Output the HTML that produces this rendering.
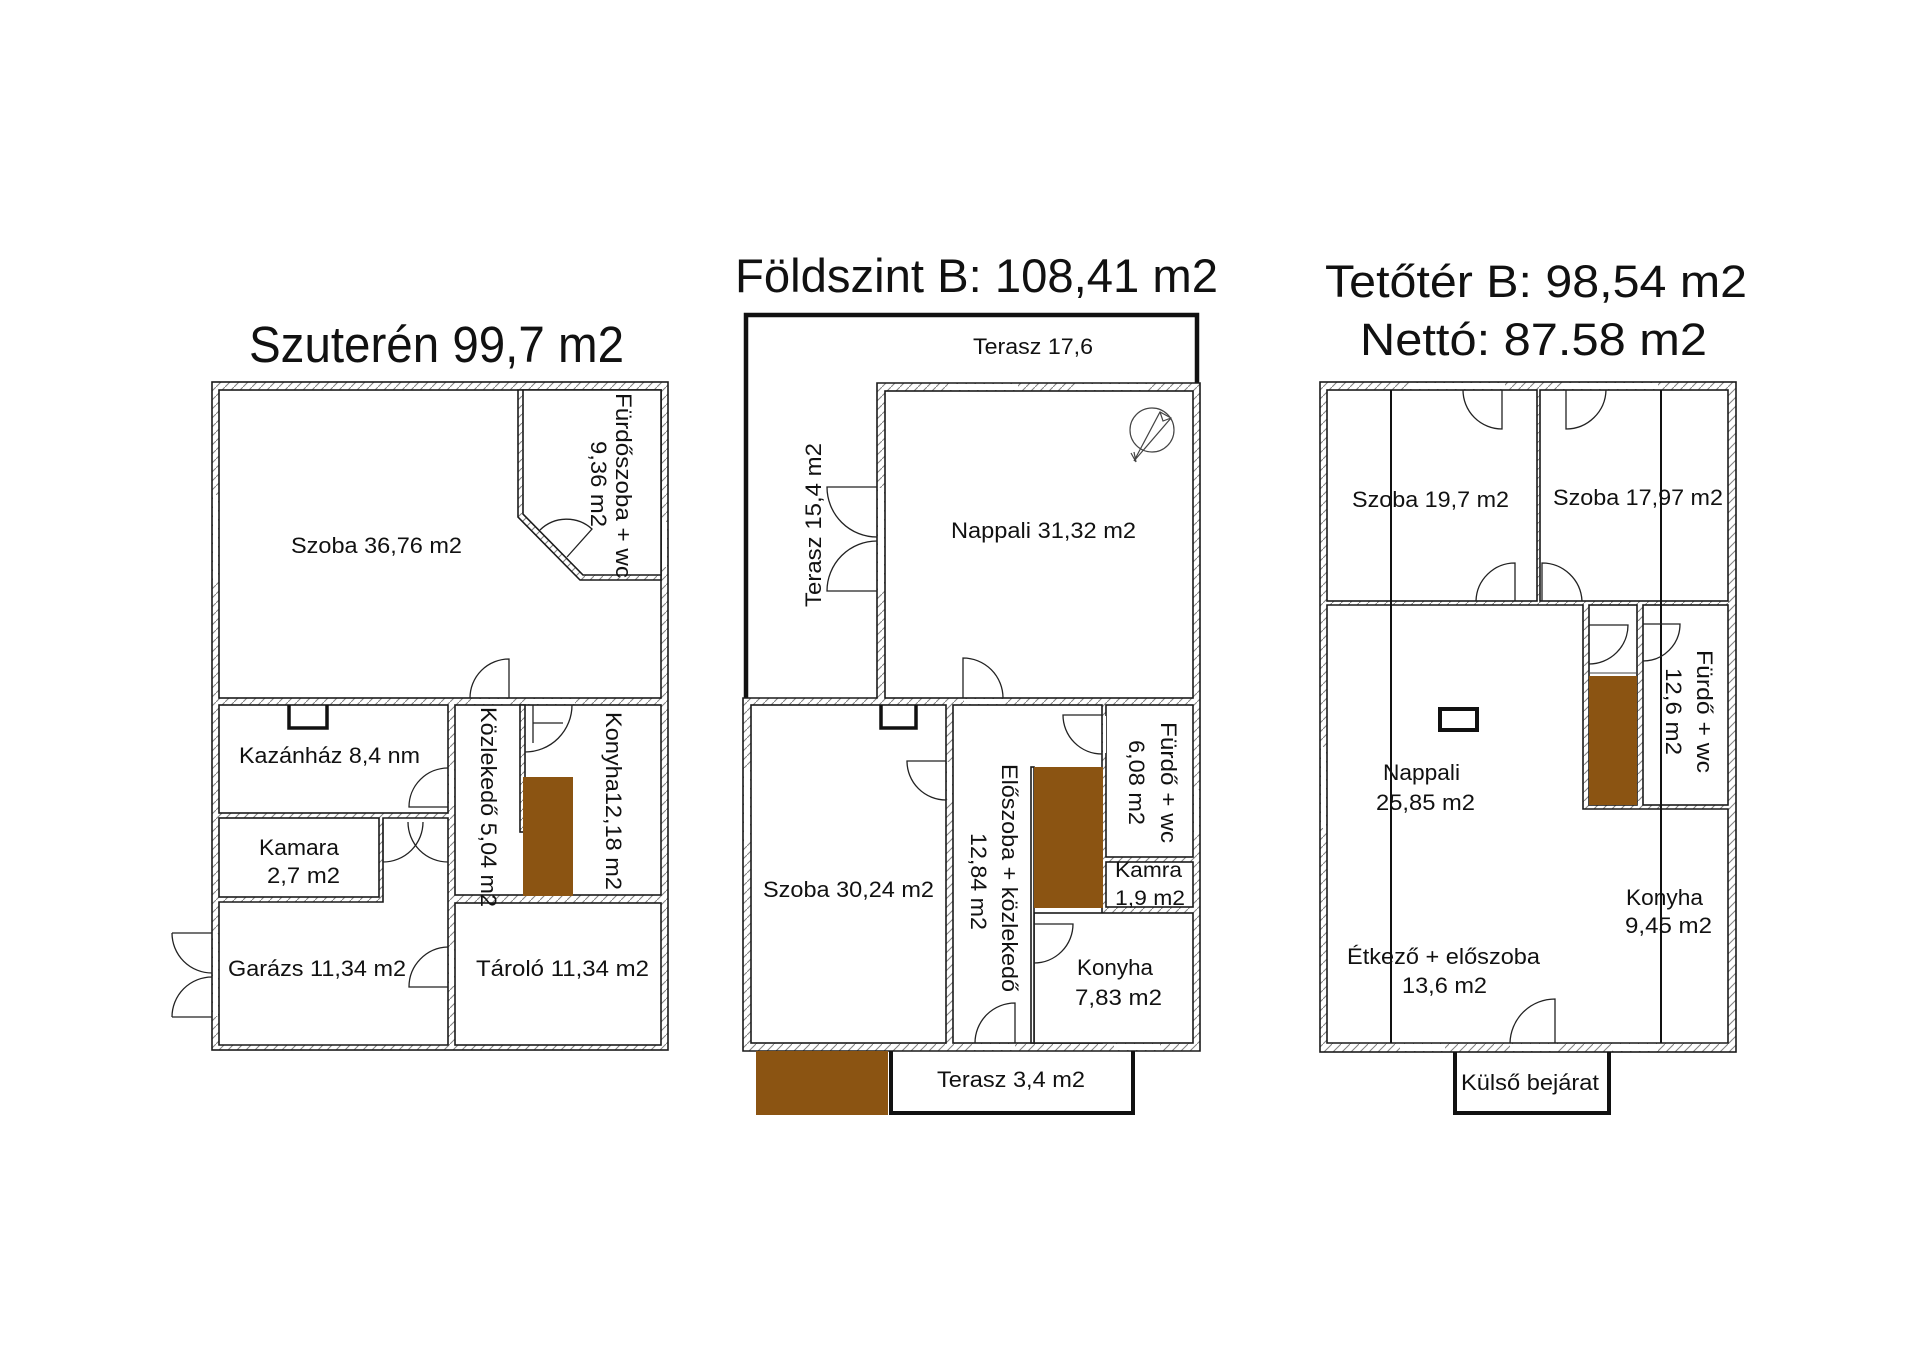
<!DOCTYPE html>
<html><head><meta charset="utf-8"><style>
html,body{margin:0;padding:0;background:#fff;}
svg{display:block;}
text{font-family:"Liberation Sans",Arial,sans-serif;fill:#111;}
</style></head><body>
<svg width="1920" height="1357" viewBox="0 0 1920 1357" xmlns="http://www.w3.org/2000/svg">
<defs>
<pattern id="h" patternUnits="userSpaceOnUse" width="9" height="9">
<rect width="9" height="9" fill="#fff"/>
<path d="M0,9 L9,0" stroke="#808080" stroke-width="1"/>
</pattern>
</defs>
<rect width="1920" height="1357" fill="#fff"/>

<!-- ============ TITLES ============ -->
<text x="249" y="362" font-size="51" textLength="375" lengthAdjust="spacingAndGlyphs">Szuterén 99,7 m2</text>
<text x="735" y="292" font-size="47" textLength="483" lengthAdjust="spacingAndGlyphs">Földszint B: 108,41 m2</text>
<text x="1325" y="297" font-size="45" textLength="422" lengthAdjust="spacingAndGlyphs">Tetőtér B: 98,54 m2</text>
<text x="1360" y="355" font-size="45" textLength="347" lengthAdjust="spacingAndGlyphs">Nettó: 87.58 m2</text>

<!-- ============ LEFT PLAN: SZUTERÉN ============ -->
<g stroke="#1a1a1a" stroke-width="1.6">
<rect x="212" y="382" width="456" height="668" fill="url(#h)"/>
<rect x="213" y="495" width="5" height="87" fill="#fff" stroke="none"/>
<rect x="662" y="522" width="5" height="45" fill="#fff" stroke="none"/>
<rect x="219" y="390" width="442" height="308" fill="#fff"/>
<polygon points="518,390 661,390 661,580 580,580 518,517" fill="url(#h)"/>
<polygon points="523,390 661,390 661,575 583,575 523,514" fill="#fff"/>
<rect x="219" y="705" width="229" height="108" fill="#fff"/>
<rect x="219" y="818" width="160" height="79" fill="#fff"/>
<polygon points="383,818 448,818 448,1045 219,1045 219,902 383,902" fill="#fff"/>
<rect x="455" y="705" width="206" height="190" fill="#fff"/>
<rect x="520" y="705" width="5" height="127" fill="url(#h)"/>
<rect x="455" y="903" width="206" height="142" fill="#fff"/>
</g>
<rect x="523" y="777" width="50" height="119" fill="#8B5412"/>
<polyline points="289,705 289,728 327,728 327,705" fill="none" stroke="#111" stroke-width="3.5"/>
<g fill="#fff" stroke="none">
<rect x="471" y="699" width="37" height="5"/>
<rect x="449" y="769" width="5" height="37"/>
<rect x="449" y="948" width="5" height="38"/>
<rect x="213" y="934" width="5" height="82"/>
<rect x="527" y="699" width="48" height="5"/>
</g>
<g fill="none" stroke="#222" stroke-width="1.3">
<path d="M509,698 V659 A39,39 0 0 0 470,698"/>
<path d="M567,557 L592,529 A38,38 0 0 0 540,530"/>
<path d="M448,807 H409 A39,39 0 0 1 448,768"/>
<path d="M448,987 H409 A40,40 0 0 1 448,947"/>
<path d="M383,822 V862 A40,40 0 0 0 423,822"/>
<path d="M408,822 A40,40 0 0 0 448,862"/>
<path d="M172,933 H212 M172,933 A40,40 0 0 0 212,973"/>
<path d="M172,1017 H212 M172,1017 A40,40 0 0 1 212,977"/>
<path d="M572,705 A47,47 0 0 1 525,752"/>
<path d="M533,705 V743 M533,723 H563"/>
</g>
<text x="291" y="553" font-size="22" textLength="171" lengthAdjust="spacingAndGlyphs">Szoba 36,76 m2</text>
<text transform="translate(616,393) rotate(90)" font-size="22" textLength="185" lengthAdjust="spacingAndGlyphs">Fürdőszoba + wc</text>
<text transform="translate(591,441) rotate(90)" font-size="22" textLength="86" lengthAdjust="spacingAndGlyphs">9,36 m2</text>
<text x="239" y="763" font-size="22" textLength="181" lengthAdjust="spacingAndGlyphs">Kazánház 8,4 nm</text>
<text x="259" y="855" font-size="22" textLength="80" lengthAdjust="spacingAndGlyphs">Kamara</text>
<text x="267" y="883" font-size="22" textLength="73" lengthAdjust="spacingAndGlyphs">2,7 m2</text>
<text x="228" y="976" font-size="22" textLength="178" lengthAdjust="spacingAndGlyphs">Garázs 11,34 m2</text>
<text x="476" y="976" font-size="22" textLength="173" lengthAdjust="spacingAndGlyphs">Tároló 11,34 m2</text>
<text transform="translate(481,707) rotate(90)" font-size="22" textLength="200" lengthAdjust="spacingAndGlyphs">Közlekedő 5,04 m2</text>
<text transform="translate(606,712) rotate(90)" font-size="22" textLength="178" lengthAdjust="spacingAndGlyphs">Konyha12,18 m2</text>

<!-- ============ MIDDLE PLAN: FÖLDSZINT ============ -->
<path d="M746,698 V315 H1197 V383" fill="none" stroke="#111" stroke-width="4.5"/>
<g stroke="#1a1a1a" stroke-width="1.6">
<polygon points="877,383 1200,383 1200,1051 743,1051 743,698 877,698" fill="url(#h)"/>
<rect x="885" y="391" width="308" height="307" fill="#fff"/>
<rect x="751" y="705" width="195" height="338" fill="#fff"/>
<rect x="953" y="705" width="149" height="338" fill="#fff"/>
<rect x="1106" y="705" width="87" height="152" fill="#fff"/>
<rect x="1106" y="862" width="87" height="45" fill="#fff"/>
<rect x="1034" y="913" width="159" height="130" fill="#fff"/>
<rect x="1031" y="767" width="3" height="276" fill="#fff"/>
</g>
<rect x="1034" y="767" width="69" height="141" fill="#8B5412"/>
<polyline points="881,705 881,728 916,728 916,705" fill="none" stroke="#111" stroke-width="3.5"/>
<rect x="756" y="1051" width="132" height="64" fill="#8B5412"/>
<path d="M891,1051 V1113 H1133 V1051" fill="none" stroke="#111" stroke-width="4"/>
<g fill="#fff" stroke="none">
<rect x="948" y="384" width="70" height="6"/>
<rect x="1076" y="384" width="71" height="6"/>
<rect x="878" y="488" width="6" height="102"/>
<rect x="964" y="699" width="39" height="5"/>
<rect x="947" y="762" width="5" height="37"/>
<rect x="1103" y="716" width="3" height="37"/>
<rect x="972" y="1044" width="43" height="6"/>
<rect x="1114" y="1044" width="46" height="6"/>
<rect x="744" y="768" width="6" height="74"/>
<rect x="1194" y="790" width="5" height="43"/>
</g>
<g fill="none" stroke="#222" stroke-width="1.3">
<path d="M877,487 H827 A50,50 0 0 0 877,537"/>
<path d="M877,591 H827 A50,50 0 0 1 877,541"/>
<path d="M963,698 V658 A40,40 0 0 1 1003,698"/>
<path d="M946,761 H907 A39,39 0 0 0 946,800"/>
<path d="M1102,715 H1063 A39,39 0 0 0 1102,754"/>
<path d="M1034,924 H1073 A39,39 0 0 1 1034,963"/>
<path d="M1015,1043 V1003 A40,40 0 0 0 975,1043"/>
</g>
<g fill="none" stroke="#444" stroke-width="1.2">
<circle cx="1152" cy="430" r="22"/>
<path d="M1134,461 L1160,412 L1171,418 Z"/>
<path d="M1160,412 L1163,421 L1171,418"/>
<path d="M1131,453 L1136,462 L1134,452"/>
</g>
<text x="973" y="354" font-size="22" textLength="120" lengthAdjust="spacingAndGlyphs">Terasz 17,6</text>
<text x="951" y="538" font-size="22" textLength="185" lengthAdjust="spacingAndGlyphs">Nappali 31,32 m2</text>
<text transform="translate(821,607) rotate(-90)" font-size="22" textLength="164" lengthAdjust="spacingAndGlyphs">Terasz 15,4 m2</text>
<text x="763" y="897" font-size="22" textLength="171" lengthAdjust="spacingAndGlyphs">Szoba 30,24 m2</text>
<text transform="translate(1002,764) rotate(90)" font-size="22" textLength="228" lengthAdjust="spacingAndGlyphs">Előszoba + közlekedő</text>
<text transform="translate(971,833) rotate(90)" font-size="22" textLength="97" lengthAdjust="spacingAndGlyphs">12,84 m2</text>
<text transform="translate(1161,722) rotate(90)" font-size="22" textLength="121" lengthAdjust="spacingAndGlyphs">Fürdő + wc</text>
<text transform="translate(1129,740) rotate(90)" font-size="22" textLength="85" lengthAdjust="spacingAndGlyphs">6,08 m2</text>
<text x="1115" y="877" font-size="21" textLength="67" lengthAdjust="spacingAndGlyphs">Kamra</text>
<text x="1115" y="905" font-size="21" textLength="70" lengthAdjust="spacingAndGlyphs">1,9 m2</text>
<text x="1077" y="975" font-size="22" textLength="76" lengthAdjust="spacingAndGlyphs">Konyha</text>
<text x="1075" y="1005" font-size="22" textLength="87" lengthAdjust="spacingAndGlyphs">7,83 m2</text>
<text x="937" y="1087" font-size="22" textLength="148" lengthAdjust="spacingAndGlyphs">Terasz 3,4 m2</text>

<!-- ============ RIGHT PLAN: TETŐTÉR ============ -->
<g stroke="#1a1a1a" stroke-width="1.6">
<rect x="1320" y="382" width="416" height="670" fill="url(#h)"/>
<rect x="1327" y="390" width="210" height="211" fill="#fff"/>
<rect x="1540" y="390" width="188" height="211" fill="#fff"/>
<polygon points="1327,605 1583,605 1583,809 1728,809 1728,1043 1327,1043" fill="#fff"/>
<rect x="1589" y="605" width="48" height="200" fill="#fff"/>
<rect x="1643" y="605" width="85" height="200" fill="#fff"/>
</g>
<rect x="1589" y="676" width="48" height="129" fill="#8B5412"/>
<line x1="1589" y1="673" x2="1637" y2="673" stroke="#444" stroke-width="1"/>
<g fill="#fff" stroke="none">
<rect x="1410" y="383" width="95" height="6"/>
<rect x="1563" y="383" width="95" height="6"/>
<rect x="1400" y="1044" width="45" height="7"/>
<rect x="1510" y="1044" width="47" height="7"/>
<rect x="1613" y="1044" width="45" height="7"/>
<rect x="1321" y="747" width="5" height="81"/>
</g>
<line x1="1391" y1="390" x2="1391" y2="1043" stroke="#111" stroke-width="2"/>
<line x1="1661" y1="390" x2="1661" y2="1043" stroke="#111" stroke-width="2"/>
<rect x="1440" y="709" width="37" height="21" fill="none" stroke="#111" stroke-width="4"/>
<path d="M1455,1052 V1113 H1609 V1052" fill="none" stroke="#111" stroke-width="4"/>
<g fill="none" stroke="#222" stroke-width="1.3">
<path d="M1502,390 V429 A39,39 0 0 1 1463,390"/>
<path d="M1566,390 V429 A40,40 0 0 0 1606,390"/>
<path d="M1515,601 V563 A39,39 0 0 0 1476,601"/>
<path d="M1542,601 V563 A40,40 0 0 1 1582,601"/>
<path d="M1589,625 H1628 A39,39 0 0 1 1589,664"/>
<path d="M1643,624 H1680 A37,37 0 0 1 1643,661"/>
<path d="M1555,1043 V999 A45,45 0 0 0 1510,1043"/>
</g>
<text x="1352" y="507" font-size="22" textLength="157" lengthAdjust="spacingAndGlyphs">Szoba 19,7 m2</text>
<text x="1553" y="505" font-size="22" textLength="170" lengthAdjust="spacingAndGlyphs">Szoba 17,97 m2</text>
<text x="1383" y="780" font-size="22" textLength="77" lengthAdjust="spacingAndGlyphs">Nappali</text>
<text x="1376" y="810" font-size="22" textLength="99" lengthAdjust="spacingAndGlyphs">25,85 m2</text>
<text x="1626" y="905" font-size="22" textLength="77" lengthAdjust="spacingAndGlyphs">Konyha</text>
<text x="1625" y="933" font-size="22" textLength="87" lengthAdjust="spacingAndGlyphs">9,45 m2</text>
<text x="1347" y="964" font-size="22" textLength="193" lengthAdjust="spacingAndGlyphs">Étkező + előszoba</text>
<text x="1402" y="993" font-size="22" textLength="85" lengthAdjust="spacingAndGlyphs">13,6 m2</text>
<text transform="translate(1697,650) rotate(90)" font-size="22" textLength="123" lengthAdjust="spacingAndGlyphs">Fürdő + wc</text>
<text transform="translate(1666,668) rotate(90)" font-size="22" textLength="87" lengthAdjust="spacingAndGlyphs">12,6 m2</text>
<text x="1461" y="1090" font-size="22" textLength="138" lengthAdjust="spacingAndGlyphs">Külső bejárat</text>
</svg>
</body></html>
